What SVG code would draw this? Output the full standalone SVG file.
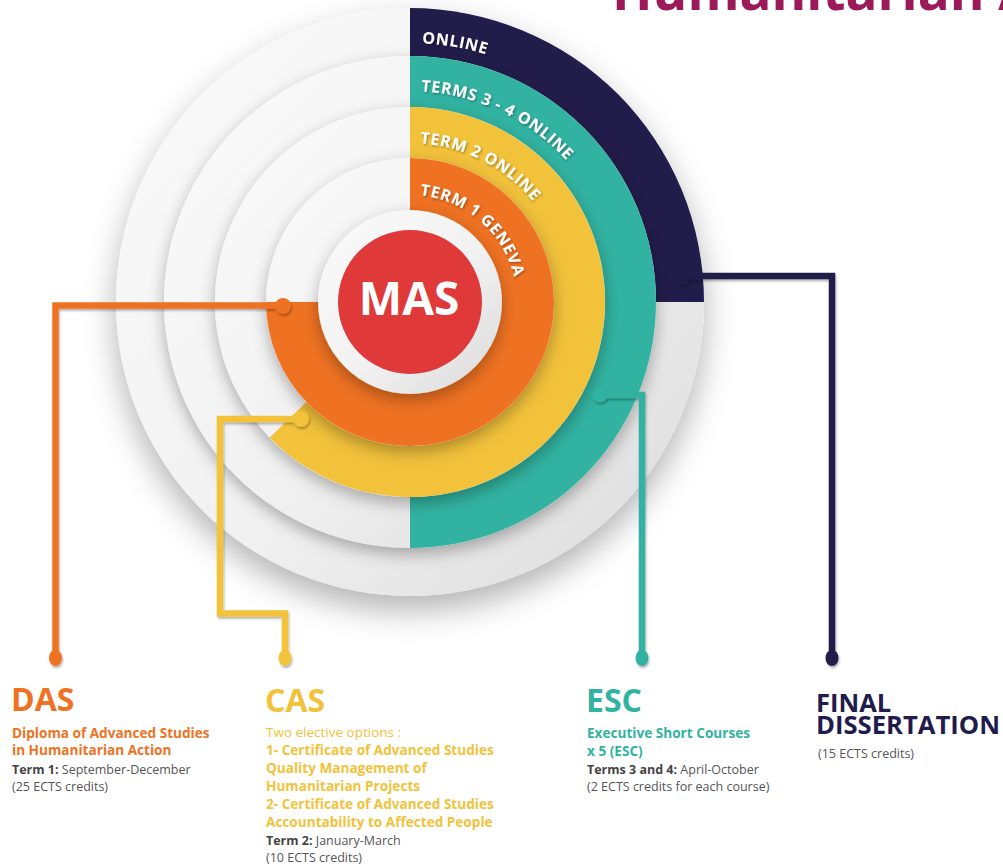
<svg xmlns="http://www.w3.org/2000/svg" xmlns:xlink="http://www.w3.org/1999/xlink" width="1003" height="867" viewBox="0 0 1003 867">
<style>
text{font-family:"Open Sans","Liberation Sans",sans-serif}
.ring{font-size:16px;font-weight:700;fill:#fff;letter-spacing:0.6px}
.head{font-size:32px;font-weight:700}
.sub{font-size:13.6px;font-weight:700}
.det{font-size:12.5px;fill:#555}
.detb{font-weight:700;fill:#444}
.conn{fill:none;stroke-width:6.5;stroke-linejoin:miter}
</style>
<defs>
<linearGradient id="gray" x1="0" y1="0" x2="1" y2="1">
<stop offset="0" stop-color="#fbfbfb"/>
<stop offset="0.55" stop-color="#f1f1f1"/>
<stop offset="1" stop-color="#dadada"/>
</linearGradient>
<filter id="shBig" x="-30%" y="-30%" width="160%" height="160%">
<feDropShadow dx="0" dy="14" stdDeviation="16" flood-color="#000" flood-opacity="0.3"/>
</filter>
<filter id="sh" x="-30%" y="-30%" width="160%" height="160%">
<feDropShadow dx="0" dy="6" stdDeviation="8" flood-color="#000" flood-opacity="0.3"/>
</filter>
<filter id="tsh" x="-10%" y="-10%" width="120%" height="130%">
<feDropShadow dx="1" dy="1.5" stdDeviation="0.8" flood-color="#000" flood-opacity="0.35"/>
</filter>
<filter id="lsh" x="-10%" y="-10%" width="120%" height="120%">
<feDropShadow dx="1" dy="2" stdDeviation="1.2" flood-color="#000" flood-opacity="0.3"/>
</filter>
<path id="arcOnline" d="M410,43 A259,259 0 0 1 669,302"/>
<path id="arcT34" d="M410,91 A211,211 0 0 1 621,302"/>
<path id="arcT2" d="M410,143 A159,159 0 0 1 569,302"/>
<path id="arcT1" d="M410,195 A107,107 0 0 1 517,302"/>
</defs>

<text x="612" y="10" font-size="53" font-weight="700" fill="#9b1b5a">Humanitarian A</text>

<g id="ring-online" filter="url(#shBig)">
<circle cx="410" cy="302" r="294" fill="url(#gray)"/>
<path d="M410,302 L410,8 A294,294 0 0 1 704,302 Z" fill="#211c4c"/>
</g>
<g id="ring-terms34" filter="url(#sh)">
<circle cx="410" cy="302" r="246" fill="url(#gray)"/>
<path d="M410,302 L410,56 A246,246 0 0 1 410,548 Z" fill="#31b3a1"/>
</g>
<g id="ring-term2" filter="url(#sh)">
<circle cx="410" cy="302" r="195" fill="url(#gray)"/>
<path d="M410,302 L410,107 A195,195 0 1 1 269.7,437.5 Z" fill="#f2c23b"/>
</g>
<g id="ring-term1" filter="url(#sh)">
<circle cx="410" cy="302" r="144" fill="url(#gray)"/>
<path d="M410,302 L410,158 A144,144 0 1 1 266,302 Z" fill="#ef7223"/>
</g>
<g id="mas">
<circle cx="410" cy="302" r="92" fill="url(#gray)" filter="url(#sh)"/>
<circle cx="410" cy="302" r="72" fill="#e0393a"/>
<text x="409" y="315" font-size="46" font-weight="700" fill="#fff" text-anchor="middle">MAS</text>
</g>

<g id="ring-labels" filter="url(#tsh)">
<text class="ring"><textPath xlink:href="#arcOnline" href="#arcOnline" startOffset="12">ONLINE</textPath></text>
<text class="ring"><textPath xlink:href="#arcT34" href="#arcT34" startOffset="11">TERMS 3 - 4 ONLINE</textPath></text>
<text class="ring"><textPath xlink:href="#arcT2" href="#arcT2" startOffset="10">TERM 2 ONLINE</textPath></text>
<text class="ring"><textPath xlink:href="#arcT1" href="#arcT1" startOffset="10">TERM 1 GENEVA</textPath></text>
</g>

<g id="connectors" filter="url(#lsh)">
<path class="conn" stroke="#ef7223" d="M283,305.5 H55.5 V657"/>
<circle cx="283" cy="306" r="8" fill="#ef7223"/>
<ellipse cx="55.5" cy="658" rx="6.5" ry="8" fill="#ef7223"/>
<path class="conn" stroke="#f2c23b" d="M301,419 H220 V613.5 H285 V657"/>
<circle cx="301" cy="419" r="8" fill="#f2c23b"/>
<ellipse cx="285" cy="658" rx="6.5" ry="8" fill="#f2c23b"/>
<path class="conn" stroke="#31b3a1" d="M600,395 H642 V657"/>
<circle cx="600" cy="395" r="7.5" fill="#31b3a1"/>
<ellipse cx="642" cy="658" rx="6.5" ry="8" fill="#31b3a1"/>
<path class="conn" stroke="#211c4c" d="M682,276 H832 V657"/>
<circle cx="682" cy="277" r="8" fill="#211c4c"/>
<ellipse cx="832" cy="658" rx="6.5" ry="8" fill="#211c4c"/>
</g>

<g id="das">
<text x="11" y="711" class="head" fill="#ef7223">DAS</text>
<text x="12" y="738" class="sub" fill="#ef7223">Diploma of Advanced Studies</text>
<text x="12" y="755" class="sub" fill="#ef7223">in Humanitarian Action</text>
<text x="12" y="774" class="det"><tspan class="detb">Term 1:</tspan> September-December</text>
<text x="12" y="791" class="det">(25 ECTS credits)</text>
</g>

<g id="cas">
<text x="265" y="712" class="head" fill="#f2c23b">CAS</text>
<text x="266" y="737" font-size="13.5" fill="#f2c23b">Two elective options :</text>
<text x="266" y="755" class="sub" fill="#f2c23b">1- Certificate of Advanced Studies</text>
<text x="266" y="773" class="sub" fill="#f2c23b">Quality Management of</text>
<text x="266" y="791" class="sub" fill="#f2c23b">Humanitarian Projects</text>
<text x="266" y="809" class="sub" fill="#f2c23b">2- Certificate of Advanced Studies</text>
<text x="266" y="827" class="sub" fill="#f2c23b">Accountability to Affected People</text>
<text x="266" y="845" class="det"><tspan class="detb">Term 2:</tspan> January-March</text>
<text x="266" y="862" class="det">(10 ECTS credits)</text>
</g>

<g id="esc">
<text x="586" y="712" class="head" fill="#31b3a1">ESC</text>
<text x="587" y="738" class="sub" fill="#31b3a1">Executive Short Courses</text>
<text x="587" y="756" class="sub" fill="#31b3a1">x 5 (ESC)</text>
<text x="587" y="774" class="det"><tspan class="detb">Terms 3 and 4:</tspan> April-October</text>
<text x="587" y="791" class="det">(2 ECTS credits for each course)</text>
</g>

<g id="final">
<text x="816" y="712" font-size="25.5" font-weight="700" fill="#211c4c">FINAL</text>
<text x="816" y="734" font-size="25.5" font-weight="700" fill="#211c4c" textLength="184" lengthAdjust="spacingAndGlyphs">DISSERTATION</text>
<text x="818" y="758" class="det">(15 ECTS credits)</text>
</g>
</svg>
